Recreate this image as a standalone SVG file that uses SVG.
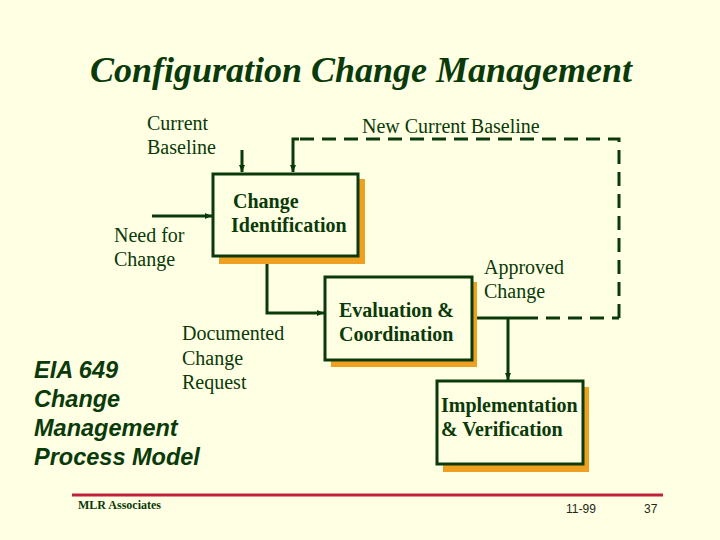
<svg xmlns="http://www.w3.org/2000/svg" width="720" height="540" viewBox="0 0 720 540">
<defs>
<style>
.t{font-family:"Liberation Serif","Times New Roman",serif;fill:#0a3a0a;font-size:20px}
.b{font-weight:bold}
.a{font-family:"Liberation Sans",Arial,sans-serif;font-weight:bold;font-style:italic;fill:#0a3a0a;font-size:23.5px}
.f{font-family:"Liberation Sans",Arial,sans-serif;font-size:12px;fill:#1a2a1a}
.box{fill:#FFFFE3;stroke:#0a3a0a;stroke-width:3}
.sh{fill:#F0A020}
.ln{fill:none;stroke:#0a3a0a;stroke-width:3}
.ds{fill:none;stroke:#0a3a0a;stroke-width:3;stroke-dasharray:14,8}
</style>
<marker id="ar" markerWidth="8" markerHeight="8" refX="7" refY="4" orient="auto" markerUnits="userSpaceOnUse">
<path d="M0,1 L7,4 L0,7 Z" fill="#0a3a0a"/>
</marker>
</defs>
<rect width="720" height="540" fill="#FFFFE3"/>
<text x="361" y="82" text-anchor="middle" class="t b" style="font-style:italic;font-size:36px">Configuration Change Management</text>

<g id="connectors">
<line class="ln" x1="242" y1="150" x2="242" y2="172" marker-end="url(#ar)"/>
<path class="ds" d="M619,318 V139 H293"/>
<path class="ln" d="M299,139 H293 V172" marker-end="url(#ar)"/>
<line class="ln" x1="152" y1="216" x2="212" y2="216" marker-end="url(#ar)"/>
<path class="ln" d="M267,257 V313 H324" marker-end="url(#ar)"/>
<path class="ln" d="M473,318 H524"/>
<path class="ds" d="M524,318 H619"/>
<line class="ln" x1="508" y1="318" x2="508" y2="380" marker-end="url(#ar)"/>
</g>

<g id="change-identification">
<rect class="sh" x="219" y="179" width="146" height="85"/>
<rect class="box" x="213" y="174" width="145" height="82"/>
<text class="t b" x="233" y="208">Change</text>
<text class="t b" x="231" y="232">Identification</text>
</g>

<g id="evaluation-coordination">
<rect class="sh" x="331" y="282" width="146" height="85"/>
<rect class="box" x="325" y="277" width="147" height="83"/>
<text class="t b" x="339" y="317">Evaluation &amp;</text>
<text class="t b" x="339" y="341">Coordination</text>
</g>

<g id="implementation-verification">
<rect class="sh" x="443" y="387" width="146" height="85"/>
<rect class="box" x="437" y="381" width="146" height="83"/>
<text class="t b" x="441" y="412">Implementation</text>
<text class="t b" x="441" y="436">&amp; Verification</text>
</g>

<g id="labels">
<text class="t" x="147" y="130">Current</text>
<text class="t" x="147" y="154">Baseline</text>
<text class="t" x="362" y="133">New Current Baseline</text>
<text class="t" x="114" y="242">Need for</text>
<text class="t" x="114" y="266">Change</text>
<text class="t" x="484" y="274">Approved</text>
<text class="t" x="484" y="298">Change</text>
<text class="t" x="182" y="340">Documented</text>
<text class="t" x="182" y="365">Change</text>
<text class="t" x="182" y="389">Request</text>
<text class="a" x="34" y="378">EIA 649</text>
<text class="a" x="34" y="407">Change</text>
<text class="a" x="34" y="436">Management</text>
<text class="a" x="34" y="465">Process Model</text>
</g>

<g id="footer">
<line x1="72" y1="495" x2="663" y2="495" stroke="#C0203A" stroke-width="3"/>
<text class="t b" x="78" y="509" style="font-size:12px">MLR Associates</text>
<text class="f" x="566" y="513">11-99</text>
<text class="f" x="644" y="513">37</text>
</g>
</svg>
